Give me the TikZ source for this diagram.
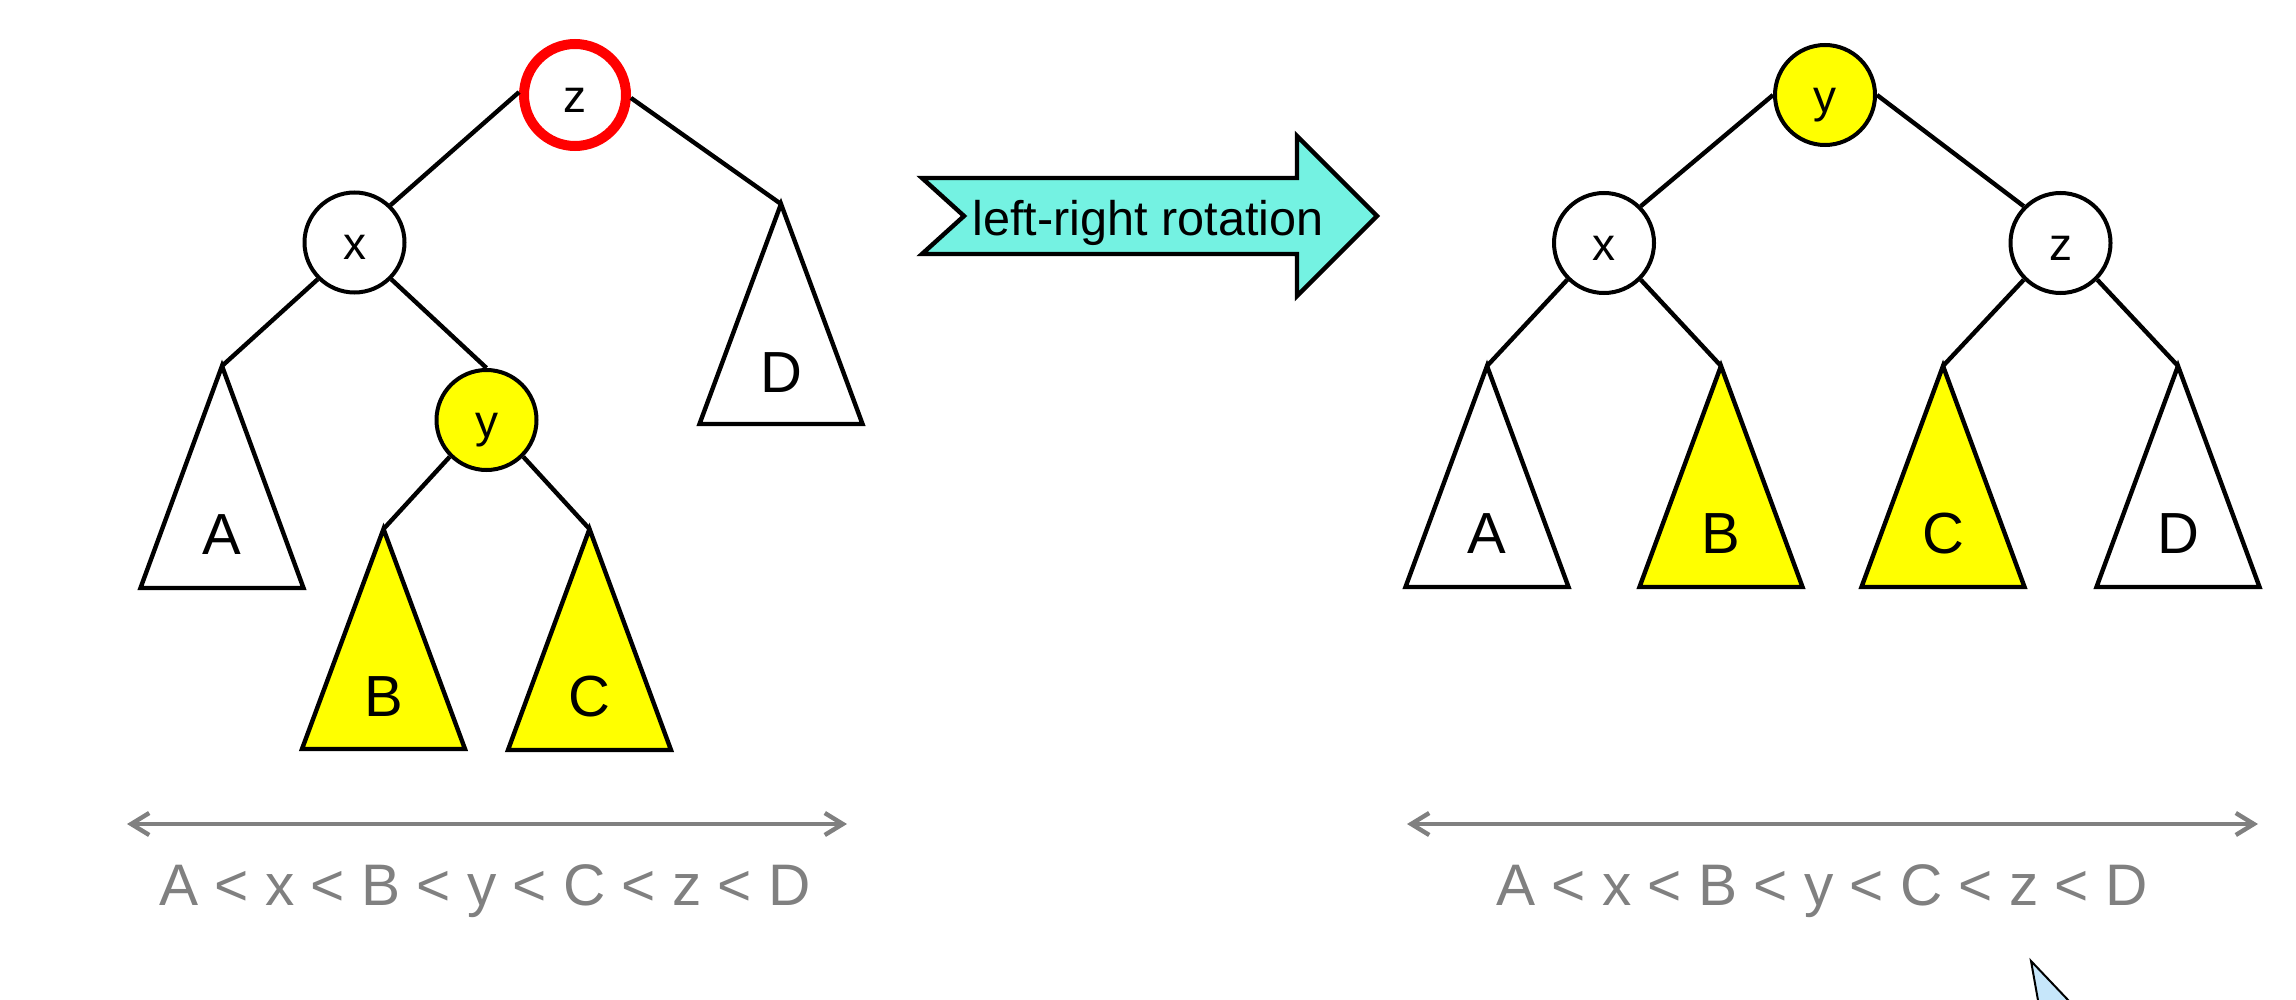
\documentclass[tikz,border=0pt]{standalone}
\usepackage{fontspec}
\setmainfont{Liberation Sans}
\usetikzlibrary{arrows.meta}
\definecolor{tyellow}{HTML}{FFFF00}
\definecolor{tred}{HTML}{FF0000}
\definecolor{tturq}{HTML}{74F2E2}
\definecolor{tgray}{HTML}{808080}
\definecolor{tcursor}{HTML}{C6E6FA}
\begin{document}
\begin{tikzpicture}[x=0.5pt,y=-0.5pt,
  tnode/.style={circle,draw=black,fill=white,line width=2pt,minimum size=50pt,inner sep=0pt,
    font=\fontsize{23}{27}\selectfont,text height=17.5pt,text depth=0pt},
  ynode/.style={tnode,fill=tyellow},
  rootred/.style={tnode,draw=tred,line width=5pt,minimum size=51pt},
  edge/.style={draw=black,line width=2.2pt},
  subtree/.style={draw=black,line width=2.2pt,fill=white},
  ysubtree/.style={subtree,fill=tyellow},
  tlabel/.style={font=\fontsize{29}{34}\selectfont,inner sep=0pt},
  order/.style={draw=tgray,line width=2.2pt,{Straight Barb[length=9pt,width=11pt]}-{Straight Barb[length=9pt,width=11pt]}},
  ordertext/.style={text=tgray,font=\fontsize{29.3}{34}\selectfont,anchor=base,inner sep=0pt},
  rotbox/.style={draw=black,line width=2.2pt,fill=tturq,line join=miter},
]
\useasboundingbox (0,0) rectangle (2296,1000);

% ---------------- left tree ----------------
\coordinate (LAt) at (222,366);
\coordinate (LBt) at (383.5,529);
\coordinate (LCt) at (589.5,529);
\coordinate (LDt) at (781,204);
\filldraw[subtree]  (LAt) -- ++(-81.5,222) -- ++(163,0) -- cycle;
\filldraw[ysubtree] (LBt) -- ++(-81.5,220) -- ++(163,0) -- cycle;
\filldraw[ysubtree] (LCt) -- ++(-81.5,221) -- ++(163,0) -- cycle;
\filldraw[subtree]  (LDt) -- ++(-81.5,220) -- ++(163,0) -- cycle;
\node[tlabel] (LAl) at (222,535) {A};
\node[tlabel] (LBl) at (383.5,697) {B};
\node[tlabel] (LCl) at (589.5,697) {C};
\node[tlabel] (LDl) at (781,373) {D};

\node[rootred] (Lz) at (575,95) {z};
\node[tnode] (Lx) at (354.5,242.5) {x};
\node[ynode] (Ly) at (486.5,420) {y};

\draw[edge] (Lz.177) -- (Lx.46);
\draw[edge] (Lz.-3) -- (LDt);
\draw[edge] (Lx.225) -- (LAt);
\draw[edge] (Lx.-45) -- (Ly.90);
\draw[edge] (Ly.225) -- (LBt);
\draw[edge] (Ly.-45) -- (LCt);

% ---------------- right tree ----------------
\coordinate (RAt) at (1487,366);
\coordinate (RBt) at (1721,366);
\coordinate (RCt) at (1943,366);
\coordinate (RDt) at (2178,366);
\filldraw[subtree]  (RAt) -- ++(-81.5,221) -- ++(163,0) -- cycle;
\filldraw[ysubtree] (RBt) -- ++(-81.5,221) -- ++(163,0) -- cycle;
\filldraw[ysubtree] (RCt) -- ++(-81.5,221) -- ++(163,0) -- cycle;
\filldraw[subtree]  (RDt) -- ++(-81.5,221) -- ++(163,0) -- cycle;
\node[tlabel] (RAl) at (1487,534) {A};
\node[tlabel] (RBl) at (1721,534) {B};
\node[tlabel] (RCl) at (1943,534) {C};
\node[tlabel] (RDl) at (2178,534) {D};

\node[ynode] (Ry) at (1825,95) {y};
\node[tnode] (Rx) at (1604,243) {x};
\node[tnode] (Rz) at (2060.5,243) {z};

\draw[edge] (Ry.180) -- (Rx.45);
\draw[edge] (Ry.0) -- (Rz.135);
\draw[edge] (Rx.225) -- (RAt);
\draw[edge] (Rx.-45) -- (RBt);
\draw[edge] (Rz.225) -- (RCt);
\draw[edge] (Rz.-45) -- (RDt);

% ---------------- rotation arrow ----------------
\filldraw[rotbox] (922,178) -- (1297,178) -- (1297,136) -- (1377,216) -- (1297,296)
  -- (1297,254) -- (922,254) -- (964,216) -- cycle;
\node[font=\fontsize{24.3}{29}\selectfont,anchor=base,inner sep=0pt] (rot) at (1148,235) {left-right rotation};

% ---------------- order lines ----------------
\coordinate (LoL) at (127,824);
\coordinate (LoR) at (847,824);
\draw[order] (LoL) -- (LoR);
\node[ordertext] (Lorder) at (485,905) {A < x < B < y < C < z < D};

\coordinate (RoL) at (1407,824);
\coordinate (RoR) at (2258,824);
\draw[order] (RoL) -- (RoR);
\node[ordertext] (Rorder) at (1822,905) {A < x < B < y < C < z < D};

% ---------------- cursor fragment ----------------
\begin{scope}
\clip (0,0) rectangle (2296,1000);
\filldraw[fill=tcursor,draw=black,line width=1pt,line join=miter] (2031,961) -- (2041.5,1020) -- (2087,1020) -- cycle;
\end{scope}
\end{tikzpicture}
\end{document}
